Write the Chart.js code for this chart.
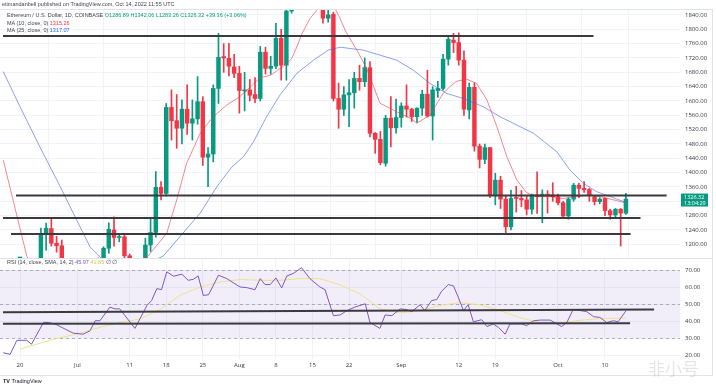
<!DOCTYPE html>
<html><head><meta charset="utf-8">
<script src="https://cdn.jsdelivr.net/npm/chart.js@4.4.0/dist/chart.umd.min.js"></script>
<style>
html,body{margin:0;padding:0;background:#fff;}
#wrap{position:relative;width:716px;height:385px;overflow:hidden;font-family:"Liberation Sans","Open Sans",sans-serif;}
canvas{position:absolute;left:0;}
.t{position:absolute;white-space:nowrap;font-size:10px;line-height:10px;color:#434651;transform:scale(0.55);transform-origin:0 0;}
.ln{position:absolute;background:#e0e3eb;}
</style></head><body>
<div id="wrap">
<canvas id="main" width="716" height="258" style="top:0"></canvas>
<canvas id="rsi" width="716" height="118" style="top:258px"></canvas>
<div class="ln" style="left:0;top:9px;width:712px;height:1px"></div>
<div class="ln" style="left:0;top:258px;width:712px;height:1px"></div>
<div class="ln" style="left:0;top:375px;width:712px;height:1px"></div>
<div class="ln" style="left:712px;top:9px;width:1px;height:367px"></div>
<div class="t" id="h1" style="left:2px;top:2px"></div>
<div class="t" id="h2" style="left:7px;top:13px"></div>
<div class="t" id="h3" style="left:7px;top:20.5px"></div>
<div class="t" id="h4" style="left:7px;top:28px"></div>
<div class="t" id="h5" style="left:7px;top:259.5px"></div>
<div class="t" style="left:3px;top:378.5px;color:#131722"><b>TV</b> TradingView</div>
<div style="position:absolute;left:648px;top:359px;font-family:'Noto Sans CJK SC';font-size:17px;line-height:17px;color:rgba(0,0,0,0.10)">非小号</div>
</div>
<script>
// ---- data ----
const firstDay = -3; // day index of first candle (0 = Jun 20, 2022)
const opens = [1068,1086,995,1127,1128,1125,1053,1141,1230,1244,1203,1196,1142,1098,1067,1059,1067,1074,1150,1134,1189,1240,1219,1221,1168,1097,1038,1112,1198,1233,1359,1342,1582,1545,1524,1577,1538,1550,1598,1443,1452,1635,1724,1719,1695,1677,1628,1631,1618,1607,1736,1691,1697,1775,1700,1851,1880,1957,1984,1936,1902,1877,1831,1842,1607,1577,1617,1623,1663,1654,1693,1510,1493,1426,1552,1525,1554,1586,1577,1556,1580,1619,1558,1629,1635,1717,1770,1763,1714,1575,1638,1474,1437,1470,1338,1379,1326,1249,1330,1328,1324,1298,1338,1334,1340,1338,1333,1316,1279,1326,1365,1356,1353,1333,1319,1328,1294,1282,1298,1286.89];
const highs = [1110,1090,1150,1155,1158,1130,1140,1245,1259,1272,1222,1212,1150,1102,1120,1078,1082,1152,1162,1193,1260,1277,1230,1226,1173,1100,1118,1217,1270,1403,1375,1593,1631,1618,1603,1645,1603,1668,1612,1470,1645,1789,1760,1761,1730,1697,1680,1660,1665,1752,1750,1725,1817,1800,1860,1940,1960,2020,2000,2010,1920,1958,1882,1848,1650,1640,1660,1680,1700,1720,1710,1512,1515,1560,1612,1605,1595,1645,1580,1581,1630,1686,1640,1655,1730,1780,1789,1790,1740,1650,1650,1480,1480,1470,1398,1390,1337,1351,1362,1350,1335,1340,1402,1352,1350,1372,1340,1320,1330,1370,1370,1375,1356,1335,1330,1330,1298,1300,1300,1342.06];
const lows = [1055,880,980,1072,1106,1048,1045,1133,1184,1195,1178,1135,1085,1000,1033,1035,1040,1050,1085,1120,1175,1195,1207,1150,1087,1036,1008,1075,1180,1220,1324,1335,1491,1468,1480,1507,1491,1535,1420,1361,1430,1593,1680,1670,1665,1566,1572,1600,1595,1600,1675,1675,1690,1658,1658,1845,1856,1940,1920,1860,1856,1817,1820,1600,1524,1560,1528,1580,1630,1640,1500,1454,1422,1418,1472,1510,1527,1555,1543,1540,1560,1555,1491,1610,1630,1700,1735,1700,1560,1550,1460,1413,1425,1330,1310,1300,1231,1240,1290,1305,1282,1285,1286,1260,1287,1320,1310,1273,1270,1320,1330,1345,1320,1310,1313,1280,1270,1275,1195,1283.26];
const closes = [1086,995,1127,1128,1125,1053,1141,1228,1245,1203,1196,1142,1098,1067,1059,1067,1074,1150,1134,1189,1242,1219,1221,1168,1097,1038,1112,1198,1233,1359,1342,1582,1545,1524,1577,1538,1550,1598,1443,1452,1635,1722,1720,1697,1677,1629,1631,1616,1607,1736,1691,1697,1775,1700,1851,1880,1957,1984,1936,1902,1877,1831,1840,1607,1577,1617,1623,1663,1654,1693,1510,1493,1428,1552,1525,1554,1586,1577,1556,1580,1619,1558,1631,1635,1717,1772,1763,1714,1577,1638,1474,1437,1470,1338,1379,1326,1249,1328,1328,1324,1298,1338,1333,1340,1336,1333,1316,1279,1326,1365,1356,1352,1338,1319,1326,1294,1282,1298,1287,1326.32];

const ma10Days = [-3.2,1.3,3,8,14,20,24.5,28.1,30,31.9,34.5,37,39.6,42.1,43.1,46,48,50.7,52,53,54,55.5,57,58.5,60,61,62.5,64.5,66.4,68.9,72.1,74.7,76,78.5,81,82.3,83.6,85.5,87.4,89.4,91.3,93.2,95.1,97,98.9,101.5,104,106.6,109.1,111.7,114.2,116];
const ma10Vals = [1435,1167,1125,1130,1090,1125,1167,1231,1324,1426,1510,1556,1589,1612,1626,1665,1672,1700,1718,1751,1788,1830,1856,1872,1866,1839,1790,1742,1690,1594,1570,1552,1538,1561,1621,1640,1655,1661,1649,1603,1528,1445,1380,1344,1333,1333,1328,1333,1338,1331,1322,1315.26];
const ma25Days = [-3.2,0,3.8,7.7,10.2,13.4,17,22,27.4,30.6,34.5,37.7,40.5,42.8,44.7,47.2,49.8,53,56.2,59,61.3,65.7,68.9,72.1,75.3,78.5,81.7,84.9,88.7,91.9,94.4,98.3,102.8,105.3,107.9,110.4,113,116];
const ma25Vals = [1682,1584,1472,1361,1287,1193,1140,1130,1167,1221,1287,1361,1415,1445,1486,1556,1617,1677,1714,1742,1750,1742,1728,1714,1686,1649,1621,1607,1584,1556,1538,1510,1458,1407,1370,1347,1333,1317.07];

const rsiDays = [-3.2,-1.9,-0.6,1.3,2.2,4.5,5.4,6.7,10.2,12.1,13.4,14.4,15.3,17.2,18.2,19.1,22,24.3,25.2,26.2,27.1,28.1,29.4,31,32.2,33.2,34.1,35.1,36.1,38,39.6,42.1,43.4,45,46,46.9,47.9,49,50.1,51.1,52.3,53.9,55.5,57.4,58.4,60,61.3,62.6,64.1,66.1,67,68.9,69.9,71.2,72.8,74,75,76.6,77.5,78.8,79.8,80.7,82,83,83.9,84.9,85.8,86.8,88.4,89.4,90.6,91.6,92.9,93.8,96.1,97,98.3,99.6,101.5,103.7,104.7,105.9,107.2,108.5,109.8,111,112.3,113.6,114.5,116];
const rsiVals = [21.4,20.4,28.7,28.7,26.4,39.2,39.2,38.3,32.9,32.3,34.3,40.2,40.2,48.2,47.2,47.2,35.7,49.2,52.1,59.1,58.5,69,66.4,67.6,64,64.6,66.6,55.1,55.5,67,65,60.1,59.7,58.5,65,61.5,61.5,65.4,59.5,66.6,68,71.4,65,60.1,58.5,43.2,43.6,46.2,48.2,50.2,39.2,35.7,43.6,43.2,47.2,46.8,45.6,49.6,46.2,52.1,52.7,57.5,61.5,60.7,54.1,46.2,49.6,39.6,40.8,36.8,38.3,36.3,32.3,38.3,38.3,37.3,40.2,40.6,40.6,36.8,39.2,46.8,46.2,45.6,42.6,42.2,39.2,40.2,39.6,45.97];
const rsiMaDays = [0,2.5,6.4,11.5,15.3,19.1,23,26.8,30.6,34.5,38.3,42.1,46,49.8,53.6,57.4,61.3,65.1,68.9,72.8,76.6,80.4,84.2,88.1,91.9,95.7,99.6,103.4,107.2,111,116];
const rsiMaVals = [23.5,25.8,29.3,32.9,36.3,39.2,41.2,46.8,55.1,60.1,63,64.5,64,64,65,65,61.3,56,47.2,44.8,46.2,49.2,50.8,49.6,46.2,42,39,38.8,40.5,41.5,41.85];

// drawn horizontal trend lines
const trendStart = [-3.26,-0.77,-3.26,-1.72];
const trendEnd   = [109.8,123.8,118.8,116.9];
const trendLevel = [1781,1336,1273.4,1228.7];
const rsiTrendStart = [-3.26,-3.26];
const rsiTrendEnd = [121.4,116.8];
const rsiTrendFrom = [45.2,38.5];
const rsiTrendTo = [46.8,38.7];

const priceTicks = [1200,1240,1280,1320,1360,1400,1440,1480,1520,1560,1600,1640,1680,1720,1760,1800,1840];
const rsiTicks = [20,30,40,50,60,70];
const bandLevels = [70,50,30];
const xTickDays = [0,11,21,28,35,42,49,56,63,73,84,91,103,112];
const xTickLabels = ['20','Jul','11','18','25','Aug','8','15','22','Sep','12','19','Oct','10'];
const countdown = '13:04:29';
const changeText = '+39.36 (+3.06%)';

// ---- styles ----
const UP = '#089981', DOWN = '#F23645', TREND = '#3b3b3f';
const X_MIN = -3.83, X_MAX = 126.36;
const FONT = {family:'"Open Sans", "Noto Sans", sans-serif', size:6};
const GRID = '#f0f3fa';

const n = closes.length;
const last = n - 1;
const days = closes.map((_, i) => firstDay + i);
const candleColor = closes.map((c, i) => c >= opens[i] ? UP : DOWN);

// header text
document.getElementById('h1').textContent = 'etimandanbell published on TradingView.com, Oct 14, 2022 11:55 UTC';
document.getElementById('h2').innerHTML = 'Ethereum / U.S. Dollar, 1D, COINBASE <span style="color:'+UP+'">O'+opens[last].toFixed(2)+' H'+highs[last].toFixed(2)+' L'+lows[last].toFixed(2)+' C'+closes[last].toFixed(2)+' '+changeText+'</span>';
document.getElementById('h3').innerHTML = 'MA (10, close, 0) <span style="color:#F23645">'+ma10Vals[ma10Vals.length-1].toFixed(2)+'</span>';
document.getElementById('h4').innerHTML = 'MA (25, close, 0) <span style="color:#2962FF">'+ma25Vals[ma25Vals.length-1].toFixed(2)+'</span>';
document.getElementById('h5').innerHTML = 'RSI (14, close, SMA, 14, 2) <span style="color:#7E57C2">'+rsiVals[rsiVals.length-1].toFixed(2)+'</span> <span style="color:#d4c94a">'+rsiMaVals[rsiMaVals.length-1].toFixed(2)+'</span> \u2205 \u2205';

const pts = (xs, ys) => xs.map((x, i) => ({x, y: ys[i]}));
const noPad = (a) => { a.paddingTop = 0; a.paddingBottom = 0; a.paddingLeft = 0; a.paddingRight = 0; };

const mainDatasets = [
  {type:'bar', data: days.map((d,i)=>({x:d, y:[lows[i], highs[i]]})), backgroundColor: candleColor, barThickness:1, grouped:false, order:3, clip:0, borderWidth:0},
  {type:'bar', data: days.map((d,i)=>({x:d, y:[opens[i], closes[i]]})), backgroundColor: candleColor, barThickness:3.8, minBarLength:1, grouped:false, order:2, clip:0, borderWidth:0},
  {type:'line', data: pts(ma10Days, ma10Vals), borderColor:'rgba(242,54,69,0.6)', borderWidth:1, pointRadius:0, tension:0, order:1, clip:0},
  {type:'line', data: pts(ma25Days, ma25Vals), borderColor:'rgba(60,100,230,0.6)', borderWidth:1, pointRadius:0, tension:0, order:1, clip:0}
];
trendLevel.forEach((lv, i) => {
  mainDatasets.push({type:'line', data:[{x:trendStart[i], y:lv},{x:trendEnd[i], y:lv}], borderColor:TREND, borderWidth:2, pointRadius:0, order:0, clip:0});
});

const priceTag = {
  id:'priceTag',
  afterDraw(chart){
    const {ctx, scales:{y}} = chart;
    const v = closes[last];
    const py = y.getPixelForValue(v);
    ctx.save();
    ctx.fillStyle = UP;
    ctx.fillRect(681, py-5.5, 27, 13);
    ctx.fillStyle = '#fff';
    ctx.font = '5.5px "Open Sans"';
    ctx.textBaseline = 'middle';
    ctx.fillText(v.toFixed(2), 684, py-2);
    ctx.fillText(countdown, 684, py+4);
    ctx.restore();
  }
};

new Chart(document.getElementById('main'), {
  type:'bar',
  data:{datasets: mainDatasets},
  options:{
    responsive:false, animation:false, events:[],
    layout:{padding:{top:10,bottom:0,left:0,right:0}},
    plugins:{legend:{display:false}, tooltip:{enabled:false}},
    scales:{
      x:{type:'linear', min:X_MIN, max:X_MAX, offset:false,
         afterBuildTicks:(a)=>{a.ticks = xTickDays.map(v=>({value:v}));},
         afterFit:(a)=>{a.height = 0; noPad(a);},
         ticks:{display:false}, grid:{color:GRID, drawTicks:false}, border:{display:false}},
      y:{type:'linear', position:'right', min:1161.8, max:1853.9,
         afterBuildTicks:(a)=>{a.ticks = priceTicks.map(v=>({value:v}));},
         afterFit:(a)=>{a.width = 36; noPad(a);},
         ticks:{font:FONT, color:'#363a45', padding:5, callback:(v)=>Number(v).toFixed(2)},
         grid:{color:GRID, drawTicks:false}, border:{display:false}}
    }
  },
  plugins:[priceTag]
});

const rsiBands = {
  id:'rsiBands',
  beforeDatasetsDraw(chart){
    const {ctx, chartArea:a, scales:{y}} = chart;
    const top = y.getPixelForValue(bandLevels[0]);
    const bot = y.getPixelForValue(bandLevels[bandLevels.length-1]);
    ctx.save();
    ctx.fillStyle = 'rgba(126,87,194,0.1)';
    ctx.fillRect(a.left, top, a.right-a.left, bot-top);
    ctx.setLineDash([3,3]);
    ctx.strokeStyle = 'rgba(120,123,134,0.55)';
    ctx.lineWidth = 1;
    bandLevels.forEach(l => {
      const py = Math.round(y.getPixelForValue(l)) + 0.5;
      ctx.beginPath(); ctx.moveTo(a.left, py); ctx.lineTo(a.right, py); ctx.stroke();
    });
    ctx.restore();
  }
};

const rsiDatasets = [
  {data: pts(rsiMaDays, rsiMaVals), borderColor:'#EDE28A', borderWidth:1, pointRadius:0, tension:0, order:2, clip:0},
  {data: pts(rsiDays, rsiVals), borderColor:'#7E57C2', borderWidth:1, pointRadius:0, tension:0, order:1, clip:0}
];
rsiTrendStart.forEach((s, i) => {
  rsiDatasets.push({data:[{x:s, y:rsiTrendFrom[i]},{x:rsiTrendEnd[i], y:rsiTrendTo[i]}], borderColor:TREND, borderWidth:2, pointRadius:0, order:0, clip:0});
});

new Chart(document.getElementById('rsi'), {
  type:'line',
  data:{datasets: rsiDatasets},
  options:{
    responsive:false, animation:false, events:[],
    layout:{padding:{top:1,bottom:0,left:0,right:0}},
    plugins:{legend:{display:false}, tooltip:{enabled:false}},
    scales:{
      x:{type:'linear', min:X_MIN, max:X_MAX, offset:false,
         afterBuildTicks:(a)=>{a.ticks = xTickDays.map(v=>({value:v}));},
         afterFit:(a)=>{a.height = 17; noPad(a);},
         ticks:{font:FONT, color:'#363a45', padding:3, autoSkip:false, maxRotation:0,
                callback:(v)=>{const k = xTickDays.indexOf(v); return k>=0 ? xTickLabels[k] : '';}},
         grid:{color:GRID, drawTicks:false}, border:{display:false}},
      y:{type:'linear', position:'right', min:17.70, max:76.54,
         afterBuildTicks:(a)=>{a.ticks = rsiTicks.map(v=>({value:v}));},
         afterFit:(a)=>{a.width = 36; noPad(a);},
         ticks:{font:FONT, color:'#363a45', padding:5, callback:(v)=>Number(v).toFixed(2)},
         grid:{color:GRID, drawTicks:false}, border:{display:false}}
    }
  },
  plugins:[rsiBands]
});
</script>
</body></html>
